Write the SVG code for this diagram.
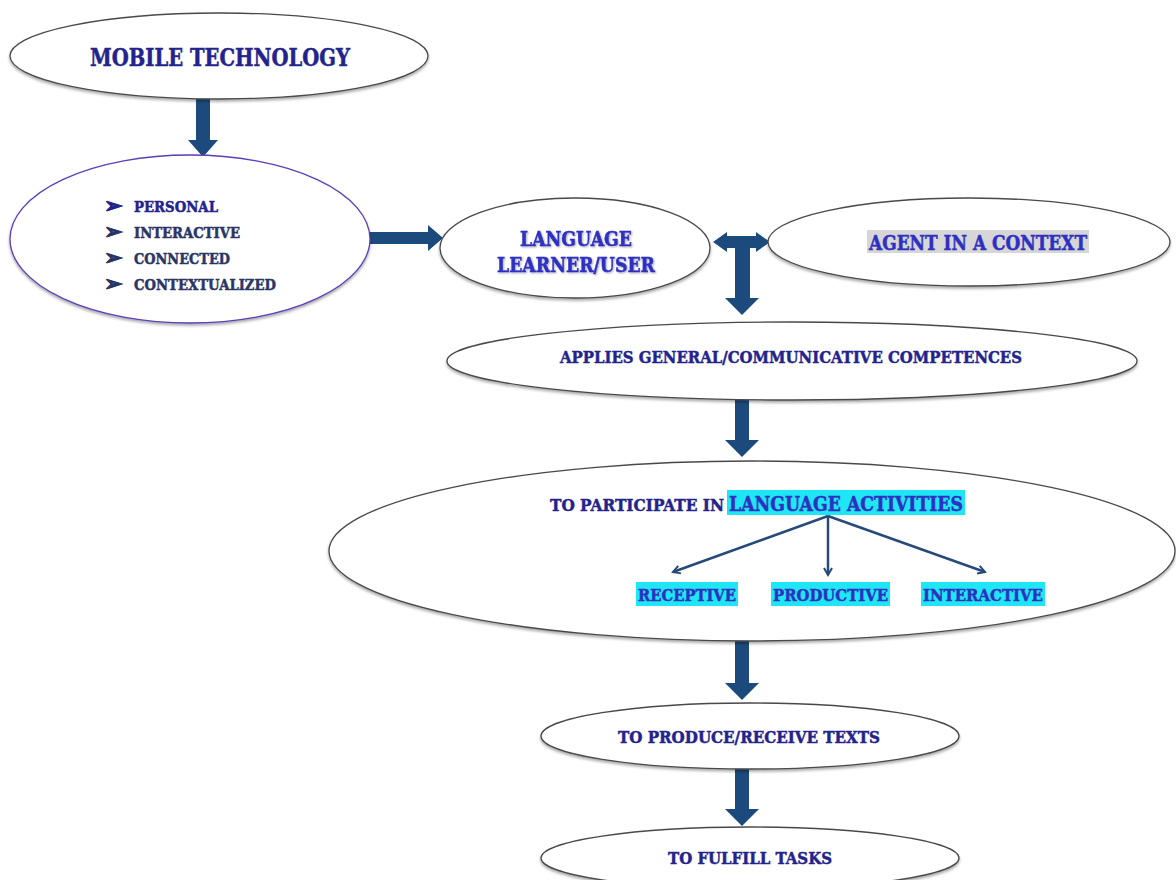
<svg xmlns="http://www.w3.org/2000/svg" width="1176" height="880" viewBox="0 0 1176 880">
  <defs>
    <filter id="shadow" x="-5%" y="-10%" width="110%" height="125%">
      <feGaussianBlur in="SourceAlpha" stdDeviation="1.5"/>
      <feOffset dx="0" dy="2" result="b"/>
      <feComponentTransfer><feFuncA type="linear" slope="0.35"/></feComponentTransfer>
      <feMerge><feMergeNode/><feMergeNode in="SourceGraphic"/></feMerge>
    </filter>
    <filter id="tshadow" x="-5%" y="-20%" width="110%" height="150%">
      <feGaussianBlur in="SourceAlpha" stdDeviation="1"/>
      <feOffset dx="1" dy="1"/>
      <feComponentTransfer><feFuncA type="linear" slope="0.35"/></feComponentTransfer>
      <feMerge><feMergeNode/><feMergeNode in="SourceGraphic"/></feMerge>
    </filter>
    <marker id="thin" markerWidth="10" markerHeight="10" refX="8" refY="5" orient="auto" markerUnits="userSpaceOnUse">
      <path d="M1,1 L8,5 L1,9" fill="none" stroke="#284a78" stroke-width="2"/>
    </marker>
  </defs>
  <style>
    .node { fill: #ffffff; stroke: #4a4a4a; stroke-width: 1.3; filter: url(#shadow); }
    .purple { stroke: #5b3fb8; }
    .lbl { font-family: "DejaVu Serif", "Liberation Serif", serif; font-weight: bold; fill: #23238c; stroke: #23238c; stroke-width: 0.5; }
    .bright { fill: #2e30c2; stroke: #2e30c2; }
    .dim { fill: #2a3566; stroke: #2a3566; }
    .arrow { fill: #1d4a7c; }
    .thinline { stroke: #284a78; stroke-width: 2.5; fill: none; }
    .cyan { fill: #1ee6f5; }
    .grey { fill: #d6d6d6; }
  </style>

  <rect width="1176" height="880" fill="#ffffff"/>

  <!-- connectors -->
  <g id="connectors">
    <!-- mobile technology down -->
    <polygon class="arrow" points="196,98 210,98 210,140 218,140 203,157 188,140 196,140"/>
    <!-- characteristics right -->
    <polygon class="arrow" points="370,232 428,232 428,225 443,238 428,251 428,244 370,244"/>
    <!-- learner / agent two-way -->
    <polygon class="arrow" points="713,242 727,232 727,236 756,236 756,232 770,242 756,252 756,248 727,248 727,252"/>
    <!-- learner down to competences -->
    <polygon class="arrow" points="735,248 750,248 750,298 759,298 742,315 725,298 735,298"/>
    <!-- competences down -->
    <polygon class="arrow" points="735,400 749,400 749,440 759,440 742,457 725,440 735,440"/>
    <!-- activities down -->
    <polygon class="arrow" points="735,641 749,641 749,683 759,683 742,700 725,683 735,683"/>
    <!-- texts down -->
    <polygon class="arrow" points="735,768 749,768 749,809 759,809 742,826 725,809 735,809"/>
  </g>

  <g id="mobile-technology">
    <ellipse class="node" cx="219" cy="56" rx="209" ry="43"/>
    <text class="lbl" x="220" y="66" text-anchor="middle" font-size="24" textLength="260" lengthAdjust="spacingAndGlyphs">MOBILE TECHNOLOGY</text>
  </g>

  <g id="characteristics">
    <ellipse class="node purple" cx="190" cy="239" rx="180" ry="84"/>
    <g class="lbl" font-size="15">
      <text x="104" y="213" font-size="22">➢</text>
      <text class="dim" x="104" y="239" font-size="22">➢</text>
      <text class="dim" x="104" y="265" font-size="22">➢</text>
      <text class="dim" x="104" y="291" font-size="22">➢</text>
      <text x="134" y="212" textLength="84" lengthAdjust="spacingAndGlyphs">PERSONAL</text>
      <text class="dim" x="134" y="238" textLength="106" lengthAdjust="spacingAndGlyphs">INTERACTIVE</text>
      <text class="dim" x="134" y="264" textLength="96" lengthAdjust="spacingAndGlyphs">CONNECTED</text>
      <text class="dim" x="134" y="290" textLength="142" lengthAdjust="spacingAndGlyphs">CONTEXTUALIZED</text>
    </g>
  </g>

  <g id="learner-user">
    <ellipse class="node" cx="575" cy="248" rx="135" ry="50"/>
    <g filter="url(#tshadow)">
      <text class="lbl bright" x="576" y="246" text-anchor="middle" font-size="21" textLength="112" lengthAdjust="spacingAndGlyphs">LANGUAGE</text>
      <text class="lbl bright" x="576" y="272" text-anchor="middle" font-size="21" textLength="158" lengthAdjust="spacingAndGlyphs">LEARNER/USER</text>
    </g>
  </g>

  <g id="agent-context">
    <ellipse class="node" cx="969" cy="242" rx="201" ry="44"/>
    <rect class="grey" x="867" y="230" width="222" height="23"/>
    <text class="lbl bright" x="978" y="250" text-anchor="middle" font-size="20" textLength="218" lengthAdjust="spacingAndGlyphs">AGENT IN A CONTEXT</text>
  </g>

  <g id="competences">
    <ellipse class="node" cx="792" cy="361" rx="345" ry="39"/>
    <text class="lbl" x="791" y="363" text-anchor="middle" font-size="17" textLength="462" lengthAdjust="spacingAndGlyphs">APPLIES GENERAL/COMMUNICATIVE COMPETENCES</text>
  </g>

  <g id="language-activities">
    <ellipse class="node" cx="752" cy="551" rx="423" ry="90"/>
    <text class="lbl" x="550" y="511" font-size="17" textLength="174" lengthAdjust="spacingAndGlyphs">TO PARTICIPATE IN</text>
    <rect class="cyan" x="727" y="490" width="238" height="25"/>
    <text class="lbl bright" x="729" y="511" font-size="20" textLength="234" lengthAdjust="spacingAndGlyphs">LANGUAGE ACTIVITIES</text>
    <line class="thinline" x1="828" y1="516" x2="673" y2="572" marker-end="url(#thin)"/>
    <line class="thinline" x1="828" y1="516" x2="828" y2="575" marker-end="url(#thin)"/>
    <line class="thinline" x1="828" y1="516" x2="985" y2="572" marker-end="url(#thin)"/>
    <rect class="cyan" x="636" y="582" width="102" height="24"/>
    <rect class="cyan" x="771" y="582" width="119" height="24"/>
    <rect class="cyan" x="921" y="582" width="124" height="24"/>
    <text class="lbl bright" x="638" y="601" font-size="17" textLength="98" lengthAdjust="spacingAndGlyphs">RECEPTIVE</text>
    <text class="lbl bright" x="773" y="601" font-size="17" textLength="115" lengthAdjust="spacingAndGlyphs">PRODUCTIVE</text>
    <text class="lbl bright" x="923" y="601" font-size="17" textLength="120" lengthAdjust="spacingAndGlyphs">INTERACTIVE</text>
  </g>

  <g id="produce-texts">
    <ellipse class="node" cx="750" cy="736" rx="209" ry="33"/>
    <text class="lbl" x="749" y="743" text-anchor="middle" font-size="16" textLength="262" lengthAdjust="spacingAndGlyphs">TO PRODUCE/RECEIVE TEXTS</text>
  </g>

  <g id="fulfill-tasks">
    <ellipse class="node" cx="750" cy="858" rx="209" ry="31"/>
    <text class="lbl" x="750" y="864" text-anchor="middle" font-size="16" textLength="164" lengthAdjust="spacingAndGlyphs">TO FULFILL TASKS</text>
  </g>
</svg>
